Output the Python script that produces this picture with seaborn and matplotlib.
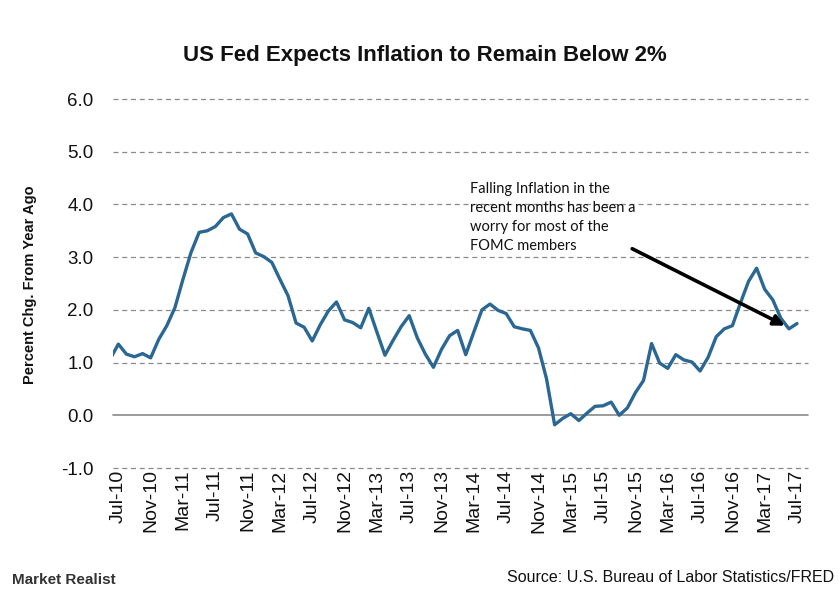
import matplotlib
matplotlib.use("Agg")
import matplotlib.pyplot as plt
import seaborn as sns
import pandas as pd
import numpy as np

# Monthly CPI % change from year ago, Jun-10 .. Jul-17 (Jun-10 partly clipped at left edge)
months = pd.date_range("2010-06-01", "2017-07-01", freq="MS")
cpi = [1.07,
       1.35, 1.16, 1.11, 1.17, 1.09, 1.44, 1.70, 2.04, 2.58, 3.09, 3.47, 3.50,
       3.58, 3.75, 3.82, 3.53, 3.44, 3.08, 3.01, 2.90, 2.58, 2.27, 1.75, 1.67,
       1.41, 1.72, 1.98, 2.15, 1.81, 1.76, 1.66, 2.03, 1.58, 1.14, 1.42, 1.68,
       1.89, 1.47, 1.16, 0.91, 1.25, 1.51, 1.61, 1.15, 1.58, 2.00, 2.11, 1.99,
       1.93, 1.68, 1.64, 1.61, 1.28, 0.69, -0.18, -0.06, 0.03, -0.10, 0.04, 0.17,
       0.18, 0.25, 0.00, 0.14, 0.43, 0.66, 1.36, 0.99, 0.89, 1.15, 1.05, 1.01,
       0.84, 1.10, 1.49, 1.64, 1.70, 2.13, 2.54, 2.79, 2.39, 2.19, 1.84, 1.64,
       1.74]
tick_labels = ["Jul-10", "Nov-10", "Mar-11", "Jul-11", "Nov-11", "Mar-12",
               "Jul-12", "Nov-12", "Mar-13", "Jul-13", "Nov-13", "Mar-14",
               "Jul-14", "Nov-14", "Mar-15", "Jul-15", "Nov-15", "Mar-16",
               "Jul-16", "Nov-16", "Mar-17", "Jul-17"]
y_ticks = [-1, 0, 1, 2, 3, 4, 5, 6]

df = pd.DataFrame({"pos": np.arange(len(cpi)) - 1, "value": cpi,
                   "month": months})

sns.set_theme(style="white")
plt.rcParams["font.family"] = ["Liberation Sans", "DejaVu Sans"]

fig = plt.figure(figsize=(8.4, 6), dpi=100)
fig.patch.set_facecolor("white")
ax = fig.add_axes([113 / 840, 1 - 468 / 600, (808 - 113) / 840, (468 - 99) / 600])

for yv in y_ticks:
    if yv == 0:
        ax.axhline(yv, color="#8a8a8a", lw=1.2, zorder=1, clip_on=False)
    else:
        ax.axhline(yv, color="#8a8a8a", lw=0.9, ls=(0, (4, 3)), zorder=1,
                   clip_on=False)

sns.lineplot(data=df, x="pos", y="value", ax=ax, color="#2A6793",
             linewidth=2.4, zorder=3)

ax.set_xlim(-0.66, 85.36)
ax.set_ylim(-1, 6)
ax.set_yticks(y_ticks)
ax.set_yticklabels([f"{v:.1f}" for v in y_ticks])
ax.set_xticks(np.arange(0, 85, 4))
ax.set_xticklabels(tick_labels, rotation=90)
ax.set_xlabel("")
ax.set_ylabel("")
for s in ax.spines.values():
    s.set_visible(False)
ax.tick_params(axis="y", length=0, labelsize=13.5, pad=14, colors="#111111")
ax.tick_params(axis="x", length=0, labelsize=14, pad=1, colors="#111111")

ax.annotate("", xy=(82.5, 1.70), xytext=(63.6, 3.16),
            arrowprops=dict(arrowstyle="-|>", color="black", lw=2.6,
                            mutation_scale=16, shrinkA=0, shrinkB=0),
            zorder=4)

fig.text(470 / 840, 1 - 182 / 600,
         "Falling Inflation in the\nrecent months has been a\nworry for most of the\nFOMC members",
         ha="left", va="top", fontsize=10.5, linespacing=1.45,
         family=["Lato", "DejaVu Sans"], color="#111111")

fig.text(0.506, 1 - 55 / 600, "US Fed Expects Inflation to Remain Below 2%",
         ha="center", va="center", fontsize=16, fontweight="bold",
         color="#111111")

fig.text(30 / 840, 1 - 285 / 600, "Percent Chg. From Year Ago",
         rotation=90, ha="center", va="center", fontsize=10.5,
         fontweight="bold", color="#111111")

fig.text(834 / 840, 1 - 578 / 600, "Source: U.S. Bureau of Labor Statistics/FRED",
         ha="right", va="center", fontsize=11.5, color="#111111")

fig.text(12 / 840, 1 - 580 / 600, "Market Realist", ha="left", va="center",
         fontsize=11, color="#333333", fontweight="bold")

fig.savefig("out.png", dpi=100, facecolor="white")
